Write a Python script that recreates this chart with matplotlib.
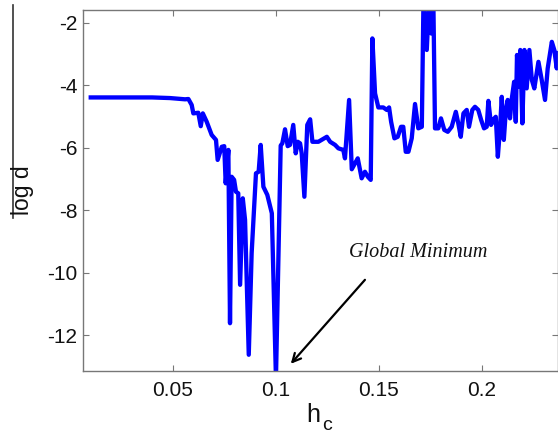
import matplotlib
matplotlib.use("Agg")
import matplotlib.pyplot as plt
from matplotlib.lines import Line2D

h_c = [0.0102, 0.0400, 0.0487, 0.0560, 0.0576, 0.0592, 0.0600, 0.0624, 0.0636, 0.0646,
       0.0665, 0.0689, 0.0710, 0.0718, 0.0738, 0.0750, 0.0757, 0.0770, 0.0778, 0.0786,
       0.0798, 0.0807, 0.0818, 0.0827, 0.0840, 0.0851, 0.0869, 0.0883, 0.0904, 0.0917,
       0.0927, 0.0940, 0.0959, 0.0981, 0.1001, 0.1024, 0.1032, 0.1045, 0.1058, 0.1069,
       0.1085, 0.1097, 0.1107, 0.1118, 0.1126, 0.1139, 0.1153, 0.1167, 0.1178, 0.1207,
       0.1248, 0.1264, 0.1288, 0.1304, 0.1328, 0.1336, 0.1356, 0.1369, 0.1385, 0.1398,
       0.1417, 0.1433, 0.1447, 0.1461, 0.1469, 0.1482, 0.1498, 0.1522, 0.1539, 0.1550,
       0.1560, 0.1576, 0.1592, 0.1608, 0.1619, 0.1631, 0.1644, 0.1660, 0.1676, 0.1692,
       0.1709, 0.1717, 0.1733, 0.1744, 0.1754, 0.1765, 0.1773, 0.1789, 0.1802, 0.1818,
       0.1835, 0.1854, 0.1874, 0.1886, 0.1898, 0.1911, 0.1927, 0.1938, 0.1954, 0.1967,
       0.1983, 0.1997, 0.2011, 0.2024, 0.2032, 0.2045, 0.2061, 0.2068, 0.2078, 0.2089,
       0.2097, 0.2107, 0.2117, 0.2126, 0.2137, 0.2146, 0.2157, 0.2165, 0.2171, 0.2181,
       0.2187, 0.2197, 0.2207, 0.2218, 0.2231, 0.2243, 0.2255, 0.2275, 0.2291, 0.2307,
       0.2320, 0.2340, 0.2352, 0.2364, 0.2370]
log_d = [-4.39, -4.39, -4.41, -4.45, -4.44, -4.63, -4.90, -4.88, -5.31, -4.90,
         -5.17, -5.59, -5.75, -6.39, -5.97, -5.95, -7.14, -6.07, -11.62, -6.93,
         -7.03, -7.41, -7.46, -10.39, -7.62, -8.31, -12.63, -9.38, -6.82, -6.77,
         -5.91, -7.25, -7.51, -8.10, -13.40, -5.93, -5.86, -5.41, -5.95, -5.91,
         -5.27, -6.18, -5.81, -5.86, -6.18, -7.57, -5.27, -5.09, -5.81, -5.81,
         -5.65, -5.81, -5.91, -6.02, -6.07, -6.34, -4.47, -6.69, -6.50, -6.34,
         -6.98, -6.77, -6.93, -7.03, -2.50, -4.26, -4.71, -4.71, -4.79, -4.71,
         -5.17, -5.70, -5.65, -5.33, -5.33, -6.13, -6.13, -5.70, -4.60, -5.38,
         -5.33, -1.30, -2.87, -1.30, -2.34, -1.30, -5.38, -5.38, -5.06, -5.43,
         -5.49, -5.33, -4.85, -5.22, -5.65, -4.90, -4.79, -5.33, -4.79, -4.69,
         -4.79, -5.11, -5.38, -5.33, -4.50, -5.27, -5.06, -5.01, -6.29, -5.33,
         -4.37, -5.75, -4.79, -4.47, -5.06, -4.42, -3.89, -5.17, -3.03, -4.05,
         -2.87, -5.22, -2.87, -4.10, -2.87, -3.83, -4.10, -3.25, -3.83, -4.47,
         -3.46, -2.61, -2.87, -3.46, -2.97]

x_ticks = [0.05, 0.1, 0.15, 0.2]
x_tick_labels = ['0.05', '0.1', '0.15', '0.2']
y_ticks = [-12, -10, -8, -6, -4, -2]
y_tick_labels = ['-12', '-10', '-8', '-6', '-4', '-2']

plt.rcParams['font.family'] = ['Liberation Sans', 'DejaVu Sans']

W, H = 558, 438
fig = plt.figure(figsize=(W / 100, H / 100), dpi=100)
ax = fig.add_axes([82.7 / W, 1 - 371 / H, (W - 82.7) / W, (371 - 10) / H])

ax.plot(h_c, log_d, color='#0000ff', lw=3.1, solid_joinstyle='round')
ax.set_xlim(0.0063, 0.2370)
ax.set_ylim(-13.15, -1.59)

ax.set_xticks(x_ticks)
ax.set_xticklabels(x_tick_labels)
ax.set_yticks(y_ticks)
ax.set_yticklabels(y_tick_labels)

spine_col = '#777777'
for s in ax.spines.values():
    s.set_color(spine_col)
    s.set_linewidth(1.0)
ax.tick_params(axis='both', direction='in', length=4, width=0.8, color=spine_col,
               top=True, right=True, labelsize=15, labelcolor='#111111')
ax.tick_params(axis='x', pad=7)
ax.tick_params(axis='y', pad=4)

fig.text(23 / W, 1 - 190 / H, 'log d', rotation=90, ha='center', va='center',
         fontsize=16.5, color='#111111')
fig.text(313 / W, 1 - 421.7 / H, 'h', ha='center', va='baseline',
         fontsize=18, color='#111111')
fig.text(327 / W, 1 - 430 / H, 'c', ha='center', va='baseline',
         fontsize=14, color='#111111')

ax.annotate('', xy=(0.1073, -12.92), xytext=(0.1433, -10.23),
            arrowprops=dict(arrowstyle='->,head_length=0.6,head_width=0.3',
                            color='black', lw=1.6, shrinkA=0, shrinkB=0))
ax.text(0.1693, -9.37, 'Global Minimum', family=['Liberation Serif', 'DejaVu Serif'],
        style='italic', fontsize=14.5, ha='center', va='center', color='#111111')

fig.add_artist(Line2D([12.7 / W, 12.7 / W], [1 - 5 / H, 1 - 218 / H],
                      transform=fig.transFigure, color='#333333', lw=1.2))

fig.savefig('out.png', dpi=100)
